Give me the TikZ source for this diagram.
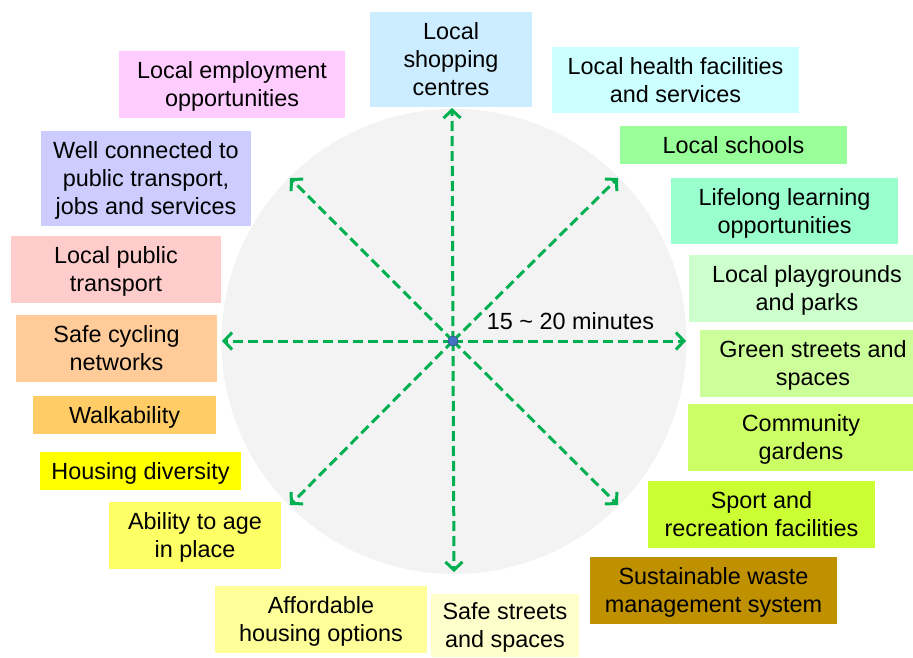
\documentclass[tikz,border=0pt]{standalone}
\usepackage{fontspec}
\setmainfont{Liberation Sans}
\usetikzlibrary{arrows.meta}

\definecolor{spokegreen}{HTML}{00B050}
\definecolor{discgray}{HTML}{F3F3F3}
\definecolor{hubblue}{HTML}{4472C4}
\definecolor{hubedge}{HTML}{2F528F}
\definecolor{cShop}{HTML}{CCECFF}
\definecolor{cHealth}{HTML}{CCFFFF}
\definecolor{cSchool}{HTML}{99FF99}
\definecolor{cLearn}{HTML}{99FFCC}
\definecolor{cPlay}{HTML}{CCFFCC}
\definecolor{cGreen}{HTML}{CCFF99}
\definecolor{cGarden}{HTML}{CCFF66}
\definecolor{cSport}{HTML}{CCFF33}
\definecolor{cWaste}{HTML}{BF9000}
\definecolor{cStreets}{HTML}{FFFFCC}
\definecolor{cAfford}{HTML}{FFFF99}
\definecolor{cAge}{HTML}{FFFF66}
\definecolor{cDiverse}{HTML}{FFFF00}
\definecolor{cWalk}{HTML}{FFCC66}
\definecolor{cCycle}{HTML}{FFCC99}
\definecolor{cTransit}{HTML}{FFCCCC}
\definecolor{cConnect}{HTML}{CCCCFF}
\definecolor{cJobs}{HTML}{FFCCFF}

% every text line gets the same height and depth, so lines stack evenly
\newcommand\linestrut{\rule[-5.7pt]{0pt}{28pt}}
\newcommand\nl{\\\linestrut}

\tikzset{
  labelbox/.style={rectangle, inner sep=0pt, align=center, text=black,
    font=\fontsize{23.4}{28}\selectfont},
  spoke/.style={draw=spokegreen, line width=3pt, dash pattern=on 10pt off 5pt,
    -{Straight Barb[length=8pt,width=17pt]}},
}

% \placebox{name}{left}{top}{right}{bottom}{colour}{text}
\newcommand\placebox[7]{%
  \node[labelbox, fill=#6, minimum width={#4-#2}, minimum height={#5-#3}]
    (#1) at ({(#2+#4)/2},{(#3+#5)/2}) {\linestrut #7};}

\begin{document}
\begin{tikzpicture}[x=1pt,y=-1pt]
  \useasboundingbox (0,0) rectangle (913,658);
  \fill[white] (0,0) rectangle (913,658);
  \clip (0,0) rectangle (913,658);

  % walking-distance disc
  \fill[discgray] (454,341.5) circle[radius=232.5];

  % hub and spoke ends
  \coordinate (hub) at (453,341);
  \coordinate (tipN)  at (452,108);
  \coordinate (tipS)  at (454,572);
  \coordinate (tipW)  at (222,341);
  \coordinate (tipE)  at (686,341);
  \coordinate (tipNW) at (290,178);
  \coordinate (tipNE) at (618,178);
  \coordinate (tipSW) at (290,505);
  \coordinate (tipSE) at (618,505);

  \foreach \t in {tipN,tipS,tipW,tipE,tipNW,tipNE,tipSW,tipSE}
    \draw[spoke] (hub) -- (\t);

  \fill[hubblue, draw=hubedge, line width=0.6pt] (hub) circle[radius=5];

  \node[labelbox] (radius) at (570.5,321) {\linestrut 15 \textasciitilde{} 20 minutes};

  % surrounding facilities
  \placebox{shop}{370}{12}{532}{107}{cShop}{Local\nl shopping\nl centres}
  \placebox{health}{552}{47}{799}{113}{cHealth}{Local health facilities\nl and services}
  \placebox{school}{620}{126}{847}{164}{cSchool}{Local schools}
  \placebox{learn}{671}{178}{898}{244}{cLearn}{Lifelong learning\nl opportunities}
  \placebox{play}{689}{255}{925}{322}{cPlay}{Local playgrounds\nl and parks}
  \placebox{green}{700}{330}{926}{397}{cGreen}{Green streets and\nl spaces}
  \placebox{garden}{688}{404}{914}{471}{cGarden}{Community\nl gardens}
  \placebox{sport}{648}{481}{875}{548}{cSport}{Sport and\nl recreation facilities}
  \placebox{waste}{590}{557}{837}{624}{cWaste}{Sustainable waste\nl management system}
  \placebox{streets}{431}{594}{579}{657}{cStreets}{Safe streets\nl and spaces}
  \placebox{afford}{215}{586}{427}{653}{cAfford}{Affordable\nl housing options}
  \placebox{age}{109}{502}{281}{569}{cAge}{Ability to age\nl in place}
  \placebox{diverse}{40}{452}{241}{490}{cDiverse}{Housing diversity}
  \placebox{walk}{33}{396}{216}{434}{cWalk}{Walkability}
  \placebox{cycle}{16}{315}{217}{382}{cCycle}{Safe cycling\nl networks}
  \placebox{transit}{11}{236}{221}{303}{cTransit}{Local public\nl transport}
  \placebox{connect}{41}{131}{251}{226}{cConnect}{Well connected to\nl public transport,\nl jobs and services}
  \placebox{jobs}{119}{51}{345}{118}{cJobs}{Local employment\nl opportunities}
\end{tikzpicture}
\end{document}
